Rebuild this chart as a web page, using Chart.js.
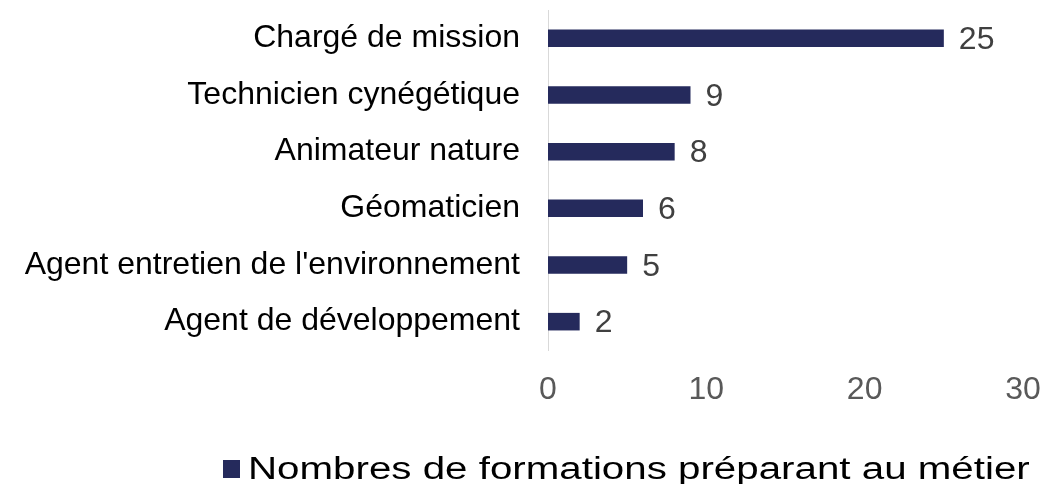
<!DOCTYPE html>
<html>
<head>
<meta charset="utf-8">
<script src="https://cdn.jsdelivr.net/npm/chart.js@4/dist/chart.umd.min.js"></script>
<style>
  html, body { margin: 0; padding: 0; background: #fff; }
  #wrap { width: 1063px; height: 484px; }
</style>
</head>
<body>
<div id="wrap"><canvas id="metiers"></canvas></div>
<script>
var metiers = [
    "Chargé de mission",
    "Technicien cynégétique",
    "Animateur nature",
    "Géomaticien",
    "Agent entretien de l'environnement",
    "Agent de développement"
];
var formations = [25, 9, 8, 6, 5, 2];
var xTicks = [0, 10, 20, 30];
var serieLabel = "Nombres de formations préparant au métier";

var FONT = "'Liberation Sans', Arial, sans-serif";
var NAVY = "#252a5c";

// values written just right of each bar
var valeurs = {
    id: "valeurs",
    afterDatasetsDraw: function (chart) {
        var ctx = chart.ctx;
        var meta = chart.getDatasetMeta(0);
        ctx.save();
        ctx.font = "32px " + FONT;
        ctx.fillStyle = "#404040";
        ctx.textAlign = "left";
        ctx.textBaseline = "middle";
        meta.data.forEach(function (bar, i) {
            ctx.fillText(String(chart.data.datasets[0].data[i]), bar.x + 15, bar.y + 2);
        });
        ctx.restore();
    }
};

// legend under the axis: square swatch + wide series name
var legende = {
    id: "legende",
    afterDraw: function (chart) {
        var ctx = chart.ctx;
        var ds = chart.data.datasets[0];
        var y = chart.height - 15;
        var x = 223;
        ctx.save();
        ctx.fillStyle = ds.backgroundColor;
        ctx.fillRect(x, y - 9, 17, 18);
        ctx.translate(x + 25, y);
        ctx.scale(1.3, 1);
        ctx.font = "31px " + FONT;
        ctx.fillStyle = "#000000";
        ctx.textAlign = "left";
        ctx.textBaseline = "middle";
        ctx.fillText(ds.label, 0, 1);
        ctx.restore();
    }
};

new Chart(document.getElementById("metiers"), {
    type: "bar",
    data: {
        labels: metiers,
        datasets: [{
            label: serieLabel,
            data: formations,
            backgroundColor: NAVY,
            borderWidth: 0,
            categoryPercentage: 1,
            barPercentage: 0.31
        }]
    },
    options: {
        indexAxis: "y",
        responsive: true,
        maintainAspectRatio: false,
        animation: false,
        layout: { padding: { top: 10, right: 40, bottom: 0, left: 0 } },
        scales: {
            x: {
                min: 0,
                max: 30,
                afterBuildTicks: function (axis) {
                    axis.ticks = xTicks.map(function (v) { return { value: v }; });
                },
                afterFit: function (axis) {
                    axis.height = 134;
                    axis.paddingLeft = 0;
                    axis.paddingRight = 0;
                },
                grid: { display: false },
                border: { display: false },
                ticks: {
                    padding: 13,
                    color: "#595959",
                    font: { family: FONT, size: 32 },
                    maxRotation: 0
                }
            },
            y: {
                afterFit: function (axis) {
                    axis.width = 548;
                    axis.paddingTop = 0;
                    axis.paddingBottom = 0;
                },
                grid: { display: false, drawTicks: false },
                border: { display: true, color: "#d9d9d9", width: 1 },
                ticks: {
                    padding: 28,
                    color: "#000000",
                    font: { family: FONT, size: 32 }
                }
            }
        },
        plugins: {
            legend: { display: false },
            tooltip: { enabled: false }
        }
    },
    plugins: [valeurs, legende]
});
</script>
</body>
</html>
